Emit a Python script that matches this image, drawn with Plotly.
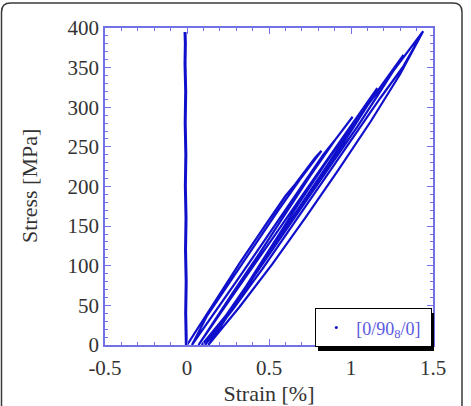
import plotly.graph_objects as go

# Cyclic load/unload path (strain %, stress MPa), continuous test history
strain_cycles = [
    0.00, 0.16, 0.32, 0.48, 0.60, 0.66, 0.72, 0.78, 0.82,
    0.70, 0.55, 0.40, 0.25, 0.12, 0.03,
    0.16, 0.30, 0.45, 0.60, 0.74, 0.83, 0.90, 1.01,
    0.90, 0.75, 0.60, 0.44, 0.28, 0.07,
    0.22, 0.38, 0.54, 0.70, 0.85, 1.00, 1.08, 1.16,
    1.00, 0.84, 0.68, 0.52, 0.36, 0.22, 0.09,
    0.24, 0.40, 0.56, 0.72, 0.88, 1.04, 1.16, 1.24, 1.32,
    1.16, 1.00, 0.84, 0.66, 0.48, 0.30, 0.11,
    0.28, 0.46, 0.64, 0.82, 1.00, 1.18, 1.32, 1.44,
    1.28, 1.10, 0.92, 0.74, 0.56, 0.38, 0.13,
    0.32, 0.52, 0.72, 0.92, 1.12, 1.30, 1.44,
]
stress_cycles = [
    0, 52, 103, 152, 188, 203, 220, 236, 245,
    212, 168, 122, 77, 36, 0,
    38, 80, 125, 170, 212, 240, 258, 288,
    258, 213, 165, 115, 66, 0,
    45, 92, 140, 188, 232, 277, 300, 324,
    276, 228, 178, 126, 74, 32, 0,
    38, 84, 132, 180, 228, 276, 314, 340, 366,
    320, 272, 222, 166, 110, 54, 0,
    45, 96, 150, 204, 258, 312, 352, 396,
    352, 302, 244, 190, 134, 78, 0,
    48, 102, 160, 220, 282, 342, 396,
]

# Second gauge reading (near-zero strain)
strain_gauge2 = [-0.004, -0.008, -0.005, -0.009, -0.006, -0.010, -0.007, -0.011, -0.008, -0.012, -0.010, -0.012]
stress_gauge2 = [0, 40, 80, 120, 160, 200, 240, 280, 320, 355, 380, 395]

series_name = "[0/90<sub>8</sub>/0]\u00a0"
x_ticks = [-0.5, 0, 0.5, 1, 1.5]
y_ticks = [0, 50, 100, 150, 200, 250, 300, 350, 400]
x_title = "Strain [%]"
y_title = "Stress [MPa]"

W, H = 471, 406
ML, MR, MT, MB = 105, 38, 28, 61
PW, PH = W - ML - MR, H - MT - MB

def px(xp):
    return (xp - ML) / PW

def py(yp):
    return (H - MB - yp) / PH

line_col = "#1010cc"
axis_col = "#7272e6"
serif = "Liberation Serif"
tick_font = dict(family=serif, size=21, color="#333333")
title_font = dict(family=serif, size=22, color="#333333")

fig = go.Figure()
fig.add_trace(go.Scatter(x=strain_cycles, y=stress_cycles, mode="lines",
                         line=dict(color=line_col, width=2.2), showlegend=False))
fig.add_trace(go.Scatter(x=strain_gauge2, y=stress_gauge2, mode="lines",
                         line=dict(color=line_col, width=3), showlegend=False))
fig.add_trace(go.Scatter(x=[None], y=[None], mode="markers", name=series_name,
                         marker=dict(color=line_col, size=3)))

xaxis = dict(
    range=[-0.5, 1.5], tickmode="array", tickvals=x_ticks,
    ticktext=[str(v) for v in x_ticks], tickfont=tick_font, ticklabelstandoff=3,
    showline=True, linecolor=axis_col, linewidth=1.5, mirror="ticks",
    ticks="inside", ticklen=6, tickwidth=1.2, tickcolor=axis_col,
    showgrid=False, zeroline=False,
    minor=dict(dtick=0.1, ticks="inside", ticklen=3, tickcolor=axis_col, tickwidth=1),
    title=dict(text=x_title, font=title_font),
)
yaxis = dict(
    range=[0, 400], tickmode="array", tickvals=y_ticks,
    ticktext=[str(v) for v in y_ticks], tickfont=tick_font,
    showline=True, linecolor=axis_col, linewidth=1.5, mirror="ticks",
    ticks="inside", ticklen=6, tickwidth=1.2, tickcolor=axis_col,
    showgrid=False, zeroline=False,
    minor=dict(dtick=10, ticks="inside", ticklen=3, tickcolor=axis_col, tickwidth=1),
)

# rounded outer frame
x0, y0, x1, y1, r = 1.5, 3, 462, 414, 9
path = (f"M {px(x0+r)},{py(y0)} L {px(x1-r)},{py(y0)} Q {px(x1)},{py(y0)} {px(x1)},{py(y0+r)} "
        f"L {px(x1)},{py(y1-r)} Q {px(x1)},{py(y1)} {px(x1-r)},{py(y1)} "
        f"L {px(x0+r)},{py(y1)} Q {px(x0)},{py(y1)} {px(x0)},{py(y1-r)} "
        f"L {px(x0)},{py(y0+r)} Q {px(x0)},{py(y0)} {px(x0+r)},{py(y0)} Z")
shapes = [dict(type="path", path=path, xref="paper", yref="paper",
               line=dict(color="#3a3a3a", width=1.5), layer="below")]
# legend drop shadow
shapes.append(dict(type="rect", xref="paper", yref="paper",
                   x0=px(318), x1=px(434), y0=py(351), y1=py(313),
                   fillcolor="black", line=dict(width=0), layer="above"))

annotations = [dict(text=y_title, xref="paper", yref="paper",
                    x=px(29), y=py(186), xanchor="center", yanchor="middle",
                    textangle=-90, showarrow=False, font=title_font)]

fig.update_layout(
    width=W, height=H, margin=dict(l=ML, r=MR, t=MT, b=MB, autoexpand=False),
    paper_bgcolor="white", plot_bgcolor="white",
    font=dict(family=serif, size=20, color="#333333"),
    xaxis=xaxis, yaxis=yaxis,
    shapes=shapes, annotations=annotations,
    legend=dict(x=px(315), y=py(347), xanchor="left", yanchor="bottom",
                bgcolor="white", bordercolor="black", borderwidth=1.3,
                font=dict(family=serif, size=18, color="#5a5ae0"),
                itemwidth=30, tracegroupgap=0),
    showlegend=True,
)

fig.write_html("out.html")
